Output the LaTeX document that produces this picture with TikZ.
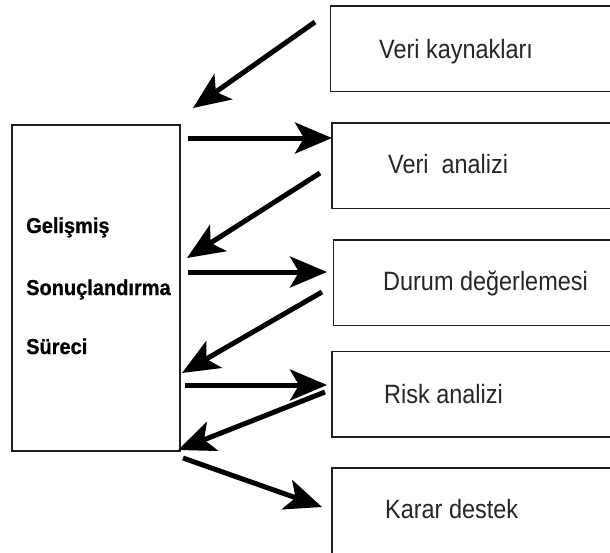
\documentclass[tikz,border=0pt]{standalone}
\usepackage{fontspec}
\setmainfont{Liberation Sans}
\newfontfamily\labelfont[FakeStretch=0.885]{Liberation Sans}
\newfontfamily\procfont[FakeStretch=0.93,FakeBold=0.8]{Liberation Sans Bold}
\usetikzlibrary{arrows.meta}
\begin{document}
\begin{tikzpicture}[x=1pt,y=-1pt,
  panel/.style={draw=black!88, line width=1.6pt, inner sep=0pt, outer sep=0pt, anchor=north west},
  stagebox/.style={panel, minimum width=290pt, minimum height=85.5pt},
  stagetext/.style={anchor=base west, inner sep=0pt, text=black!85,
    font=\labelfont\fontsize{26.5}{30}\selectfont},
  proctext/.style={anchor=base west, inner sep=0pt,
    font=\procfont\fontsize{21.5}{24}\selectfont},
  flow/.style={draw=black, line width=5pt, -{Stealth[length=37pt,width=31pt,inset=9pt]}}
]
\useasboundingbox (0,0) rectangle (610,552);
\fill[white] (0,0) rectangle (610,552);

% process block on the left
\node[panel, minimum width=168pt, minimum height=326pt] (proc) at (12,125) {};
\node[proctext] (p1) at (26,233) {Gelişmiş};
\node[proctext] (p2) at (26,295) {Sonuçlandırma};
\node[proctext] (p3) at (26,354) {Süreci};

% stage boxes, open towards the right edge
\node[stagebox] (src)  at (330.5,6)   {};
\node[stagebox] (ana)  at (332,123)   {};
\node[stagebox] (eval) at (333.5,240) {};
\node[stagebox] (risk) at (332,351.5) {};
\node[stagebox, minimum height=100pt] (dec) at (332,468) {};

\node[stagetext] (srcT)  at (379,58)  {Veri kaynakları};
\node[stagetext] (anaT)  at (388,173) {Veri~~analizi};
\node[stagetext] (evalT) at (383,290) {Durum değerlemesi};
\node[stagetext] (riskT) at (384,403) {Risk analizi};
\node[stagetext] (decT)  at (385,518) {Karar destek};

% connector end points
\coordinate (a1s) at (315,22);    \coordinate (a1e) at (193,108);
\coordinate (a2s) at (188,138);   \coordinate (a2e) at (332,138);
\coordinate (a3s) at (320,173);   \coordinate (a3e) at (187,258);
\coordinate (a4s) at (188,272);   \coordinate (a4e) at (327,272);
\coordinate (a5s) at (322,292);   \coordinate (a5e) at (182,373);
\coordinate (a6s) at (185,385);   \coordinate (a6e) at (327,385);
\coordinate (a7s) at (325,392);   \coordinate (a7e) at (178,450);
\coordinate (a8s) at (183,458);   \coordinate (a8e) at (322,507);

\draw[flow] (a1s) -- (a1e);
\draw[flow] (a2s) -- (a2e);
\draw[flow] (a3s) -- (a3e);
\draw[flow] (a4s) -- (a4e);
\draw[flow] (a5s) -- (a5e);
\draw[flow] (a6s) -- (a6e);
\draw[flow] (a7s) -- (a7e);
\draw[flow] (a8s) -- (a8e);
\end{tikzpicture}
\end{document}
